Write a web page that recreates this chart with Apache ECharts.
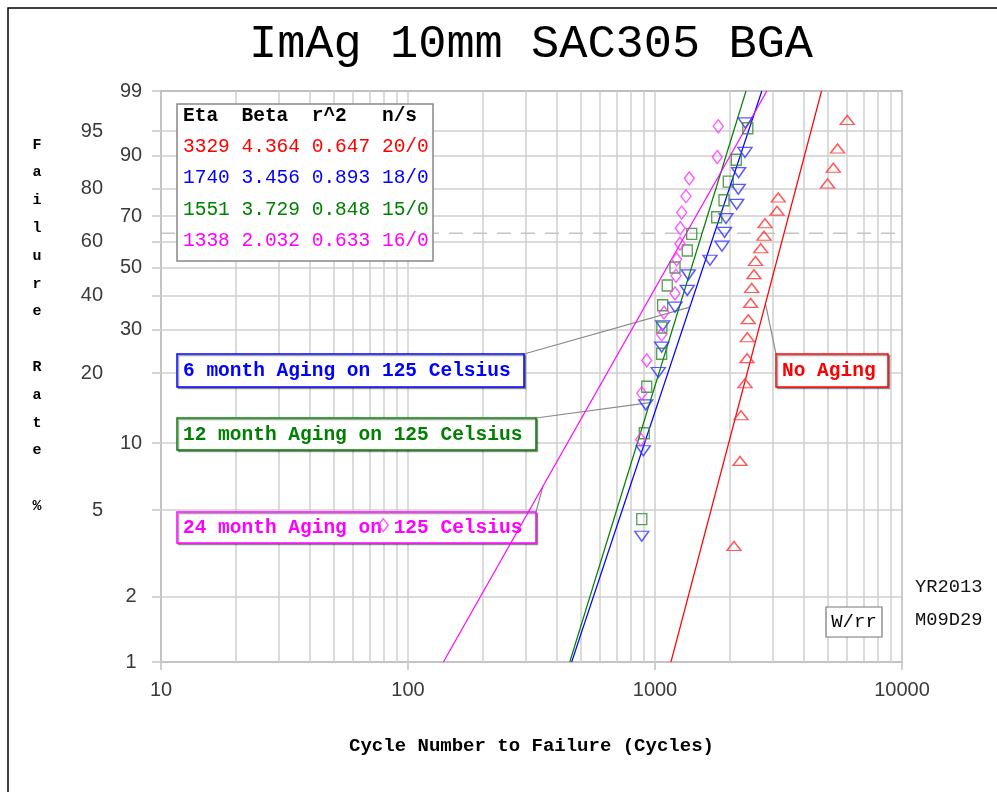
<!DOCTYPE html>
<html><head><meta charset="utf-8">
<script src="https://cdn.jsdelivr.net/npm/echarts@6/dist/echarts.min.js"></script>
<style>html,body{margin:0;padding:0;background:#fff}#c{width:997px;height:792px}</style>
</head><body><div id="c"></div>
<script>
// ---------- data ----------
const titleText = 'ImAg 10mm SAC305 BGA';
const xTitle = 'Cycle Number to Failure (Cycles)';
const yTitleLetters = ['F','a','i','l','u','r','e','','R','a','t','e','','%'];
const yTicks = [1, 2, 5, 10, 20, 30, 40, 50, 60, 70, 80, 90, 95, 99];
const yTicksLeftCol = [5, 20, 40, 60, 80, 95];
const xGridValues = [10,20,30,40,50,60,70,80,90,100,200,300,400,500,600,700,800,900,1000,2000,3000,4000,5000,6000,7000,8000,9000,10000];
const charLifePct = 63.2;

const seriesNames = ['No Aging', '6 month Aging on 125 Celsius', '12 month Aging on 125 Celsius', '24 month Aging on 125 Celsius'];
const etaVals = [3329, 1740, 1551, 1338];
const betaVals = [4.364, 3.456, 3.729, 2.032];
const r2Vals = ['0.647', '0.893', '0.848', '0.633'];
const nsVals = ['20/0', '18/0', '15/0', '16/0'];

// cycles to failure and plotted failure percentages
const redT = [2088, 2209, 2230, 2314, 2358, 2364, 2386, 2440, 2463, 2516, 2552, 2679, 2763, 2788, 3118, 3156, 4995, 5272, 5482, 6004];
const redF = [3.43, 8.33, 13.24, 18.14, 23.04, 27.94, 32.84, 37.75, 42.65, 47.55, 52.45, 57.35, 62.25, 67.16, 72.06, 76.96, 81.86, 86.76, 91.67, 96.57];
const blueT = [884, 897, 917, 1031, 1064, 1074, 1205, 1351, 1364, 1670, 1867, 1912, 1939, 2142, 2174, 2180, 2314, 2320];
const blueF = [3.80, 9.24, 14.67, 20.11, 25.54, 30.98, 36.41, 41.85, 47.28, 52.72, 58.15, 63.59, 69.02, 74.46, 79.89, 85.33, 90.76, 96.20];
const greenT = [884, 905, 926, 1064, 1066, 1074, 1121, 1205, 1351, 1408, 1777, 1903, 1981, 2134, 2375];
const greenF = [4.55, 11.04, 17.53, 24.03, 30.52, 37.01, 43.51, 50.00, 56.49, 62.99, 69.48, 75.97, 82.47, 88.96, 95.45];
const magT = [79.4, 875, 884, 926, 1064, 1088, 1205, 1216, 1224, 1262, 1265, 1283, 1335, 1377, 1787, 1804];
const magF = [4.27, 10.37, 16.46, 22.56, 28.66, 34.76, 40.85, 46.95, 53.05, 59.15, 65.24, 71.34, 77.44, 83.54, 89.63, 95.73];

const dateLines = ['YR2013', 'M09D29'];
const methodText = 'W/rr';
const annoAnchorF = [37.5, 36.4, 15, 6.4];

// ---------- styling / layout ----------
const colors = ['#ff0000', '#0000ff', '#008000', '#ff00ff'];
const markerColors = ['#ff3030', '#3030ff', '#2a8a2a', '#ff30ff'];
const annoBoxes = [[776, 354, 112, 33], [177, 354, 347, 33], [177, 418, 359, 32], [177, 512, 359, 31]];
const MONO = '"Liberation Mono", "DejaVu Sans Mono", monospace';
const SANS = '"Liberation Sans", Arial, sans-serif';

// Weibull probability scale
const yOf = p => Math.log(-Math.log(1 - p / 100));
const Y_MIN = yOf(1), Y_MAX = yOf(99);
const tAt = (eta, beta, p) => eta * Math.exp(yOf(p) / beta);

const pts = [[redT, redF], [blueT, blueF], [greenT, greenF], [magT, magF]];
const symbols = [
  {symbol: 'triangle', size: [14, 9], rot: 0},
  {symbol: 'triangle', size: [14, 10], rot: 180},
  {symbol: 'rect', size: [10, 11], rot: 0},
  {symbol: 'diamond', size: [10, 13], rot: 0}
];

const series = [];
// grid lines holder
series.push({
  type: 'scatter', data: [[10, Y_MIN]], symbolSize: 0, silent: true, z: 1,
  markLine: {
    silent: true, symbol: ['none', 'none'], label: {show: false}, animation: false, z: 1,
    lineStyle: {color: '#cfcfcf', width: 1.5, type: 'solid'},
    emphasis: {disabled: true},
    data: xGridValues.map(v => ({xAxis: v})).concat(yTicks.map(p => ({yAxis: yOf(p)})))
  }
});
// characteristic-life (63.2%) dashed reference line
series.push({
  type: 'line', symbol: 'none', silent: true, z: 1,
  lineStyle: {color: '#c4c4c4', width: 1.5, type: [14, 10]},
  data: [[10, yOf(charLifePct)], [10000, yOf(charLifePct)]]
});
// fit lines
for (let i = 0; i < 4; i++) {
  series.push({
    type: 'line', name: seriesNames[i] + ' fit', symbol: 'none', silent: true, z: 3,
    lineStyle: {color: colors[i], width: 1.2},
    data: [[tAt(etaVals[i], betaVals[i], 1), Y_MIN], [tAt(etaVals[i], betaVals[i], 99), Y_MAX]]
  });
}
// data points
for (let i = 0; i < 4; i++) {
  const [T, F] = pts[i];
  series.push({
    type: 'scatter', name: seriesNames[i], z: 4, silent: true,
    symbol: symbols[i].symbol, symbolSize: symbols[i].size, symbolRotate: symbols[i].rot,
    itemStyle: {color: 'rgba(0,0,0,0)', borderColor: markerColors[i], borderWidth: 1.4},
    data: T.map((t, k) => [t, yOf(F[k])])
  });
}

const yTickVals = yTicks.map(yOf);
const chart = echarts.init(document.getElementById('c'), null, {renderer: 'canvas'});
chart.setOption({
  animation: false,
  backgroundColor: '#fff',
  grid: {left: 161, right: 95, top: 91, bottom: 130, show: true, borderColor: '#aaaaaa', borderWidth: 1.5, backgroundColor: 'transparent'},
  xAxis: {
    type: 'log', logBase: 10, min: 10, max: 10000,
    axisLine: {show: true, onZero: false, lineStyle: {color: '#999', width: 1.5}},
    axisTick: {show: true, length: 8, lineStyle: {color: '#c0c0c0', width: 1.5}},
    splitLine: {show: false}, minorSplitLine: {show: false},
    axisLabel: {fontSize: 20, color: '#3a3a3a', fontFamily: SANS, margin: 18, formatter: v => String(Math.round(v))},
    name: xTitle, nameLocation: 'middle', nameGap: 75,
    nameTextStyle: {fontFamily: MONO, fontWeight: 'bold', fontSize: 19, color: '#000'}
  },
  yAxis: {
    type: 'value', min: Y_MIN, max: Y_MAX,
    axisLine: {show: true, onZero: false, lineStyle: {color: '#999', width: 1.5}},
    splitLine: {show: false},
    axisTick: {show: true, customValues: yTickVals, length: 9, lineStyle: {color: '#c8c8c8', width: 1.5}},
    axisLabel: {
      customValues: yTickVals, margin: 15, showMinLabel: true, showMaxLabel: true,
      formatter: v => {
        let best = yTicks[0], d = Infinity;
        yTicks.forEach(p => { const dd = Math.abs(yOf(p) - v); if (dd < d) { d = dd; best = p; } });
        return yTicksLeftCol.includes(best) ? '{l|' + best + '}{sp| }' : '{r|' + best + '}';
      },
      rich: {
        r: {width: 30, align: 'center', fontSize: 20, color: '#3a3a3a', fontFamily: SANS},
        l: {width: 27, align: 'right', fontSize: 20, color: '#3a3a3a', fontFamily: SANS},
        sp: {width: 43, fontSize: 20}
      }
    }
  },
  series: series
});

// ---------- annotations (graphic) ----------
const g = [];
g.push({type: 'rect', shape: {x: 8, y: 8, width: 1000, height: 800}, style: {fill: null, stroke: '#000', lineWidth: 1.5}, z: 0, silent: true});
g.push({type: 'text', x: 531, y: 45, style: {text: titleText, font: 'normal 47px ' + MONO, fill: '#000', textAlign: 'center', textVerticalAlign: 'middle'}});
// y title
g.push({type: 'text', x: 37, y: 131, style: {text: yTitleLetters.join('\n'), font: 'bold 15px ' + MONO, lineHeight: 27.8, fill: '#000', textAlign: 'center', textVerticalAlign: 'top'}});

// parameter table
const pad = (s, n) => (s + '          ').slice(0, n);
g.push({type: 'rect', shape: {x: 177, y: 104, width: 256, height: 157}, style: {fill: '#fff', stroke: '#888', lineWidth: 1.5}, z: 2});
g.push({type: 'text', x: 183, y: 116, z: 2, style: {text: pad('Eta', 5) + pad('Beta', 6) + pad('r^2', 6) + 'n/s', font: 'bold 19.5px ' + MONO, fill: '#000', textVerticalAlign: 'middle'}});
for (let i = 0; i < 4; i++) {
  const row = pad(String(etaVals[i]), 5) + pad(betaVals[i].toFixed(3), 6) + pad(r2Vals[i], 6) + nsVals[i];
  g.push({type: 'text', x: 183, y: 147 + i * 31.3, z: 2, style: {text: row, font: 'normal 19.5px ' + MONO, fill: colors[i], textVerticalAlign: 'middle'}});
}

// leader lines + label boxes (below fit lines and markers)
for (let i = 0; i < 4; i++) {
  const b = annoBoxes[i];
  const anchor = chart.convertToPixel({gridIndex: 0}, [tAt(etaVals[i], betaVals[i], annoAnchorF[i]), yOf(annoAnchorF[i])]);
  const corner = i === 0 ? [b[0], b[1]] : [b[0] + b[2], b[1]];
  g.push({type: 'line', shape: {x1: corner[0], y1: corner[1], x2: anchor[0], y2: anchor[1]}, style: {stroke: '#8a8a8a', lineWidth: 1.2}, z: 2});
  g.push({type: 'rect', shape: {x: b[0], y: b[1], width: b[2], height: b[3]}, style: {fill: '#fff', stroke: colors[i], lineWidth: 1.5, shadowColor: 'rgba(0,0,0,0.35)', shadowOffsetX: 1.5, shadowOffsetY: 1.5, shadowBlur: 0}, z: 2});
  g.push({type: 'text', x: b[0] + 6, y: b[1] + b[3] / 2 + 1, z: 2, style: {text: seriesNames[i], font: 'bold 19.5px ' + MONO, fill: colors[i], textVerticalAlign: 'middle'}});
}

// method box and date
g.push({type: 'rect', shape: {x: 826, y: 607, width: 56, height: 30}, style: {fill: '#fff', stroke: '#777', lineWidth: 1.2}, z: 2});
g.push({type: 'text', x: 854, y: 622, z: 2, style: {text: methodText, font: 'normal 19px ' + MONO, fill: '#000', textAlign: 'center', textVerticalAlign: 'middle'}});
g.push({type: 'text', x: 915, y: 587, style: {text: dateLines[0], font: 'normal 18.8px ' + MONO, fill: '#111', textVerticalAlign: 'middle'}});
g.push({type: 'text', x: 915, y: 620, style: {text: dateLines[1], font: 'normal 18.8px ' + MONO, fill: '#111', textVerticalAlign: 'middle'}});

chart.setOption({graphic: g});
</script>
</body></html>
